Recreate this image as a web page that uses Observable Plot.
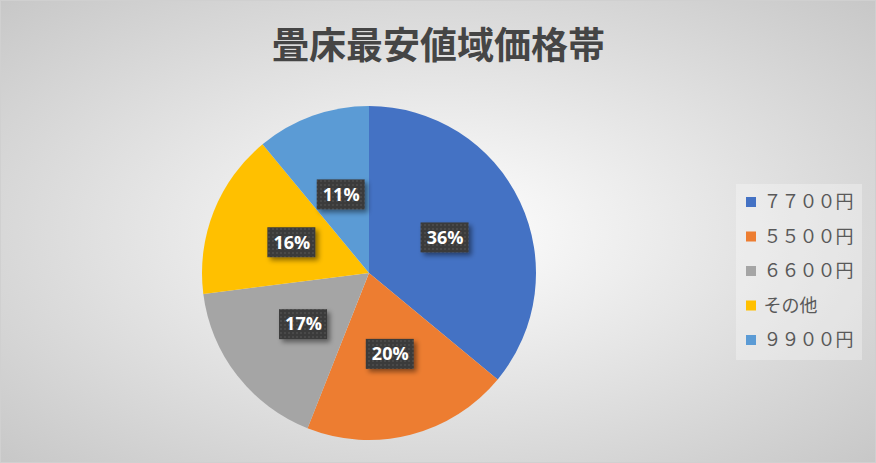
<!DOCTYPE html>
<html><head><meta charset="utf-8">
<script src="https://cdn.jsdelivr.net/npm/d3@7"></script>
<script src="https://cdn.jsdelivr.net/npm/@observablehq/plot@0.6"></script>
<style>
html,body{margin:0;padding:0;background:#fff;}
#chart svg{display:block;}
</style>
</head><body><div id="chart"></div>
<script>
const title = "畳床最安値域価格帯";
const categories = ["７７００円","５５００円","６６００円","その他","９９００円"];
const percents = [36, 20, 17, 16, 11];
const colors = ["#4472C4","#ED7D31","#A5A5A5","#FFC000","#5B9BD5"];

const W = 876, H = 463;
const cx = 369, cy = 273, R = 167;

const data = categories.map((c, i) => ({category: c, value: percents[i], color: colors[i]}));
const arcs = d3.pie().sort(null).value(d => d.value)(data);
const arcGen = d3.arc().innerRadius(0).outerRadius(R);
const labels = arcs.map(a => {
  const [dx, dy] = arcGen.centroid(a);
  return {x: cx + dx, y: cy + dy, text: a.data.value + "%"};
});
const legend = data.map((d, i) => ({...d, ly: 202 + i * 34.5}));

const bg = () => {
  const g = d3.create("svg:g");
  const defs = g.append("defs");
  const rg = defs.append("radialGradient").attr("id", "bgGrad")
    .attr("cx", "50%").attr("cy", "50%").attr("r", "75%");
  rg.append("stop").attr("offset", "0%").attr("stop-color", "#ffffff");
  rg.append("stop").attr("offset", "100%").attr("stop-color", "#c4c4c4");
  const f = defs.append("filter").attr("id", "shadow").attr("x", "-30%").attr("y", "-30%").attr("width", "170%").attr("height", "170%");
  f.append("feDropShadow").attr("dx", 3).attr("dy", 3).attr("stdDeviation", 2.5).attr("flood-color", "#000").attr("flood-opacity", 0.45);
  const p = defs.append("pattern").attr("id", "dots").attr("width", 4).attr("height", 4).attr("patternUnits", "userSpaceOnUse");
  p.append("rect").attr("width", 4).attr("height", 4).attr("fill", "#3a3a3a");
  p.append("rect").attr("width", 2).attr("height", 2).attr("fill", "#4a4a4a");
  g.append("rect").attr("x", 0.5).attr("y", 0.5).attr("width", W - 1).attr("height", H - 1)
    .attr("fill", "url(#bgGrad)").attr("stroke", "#d0d0d0");
  return g.node();
};

const pie = () => {
  const g = d3.create("svg:g").attr("transform", `translate(${cx},${cy})`);
  g.selectAll("path").data(arcs).join("path")
    .attr("d", arcGen).attr("fill", d => d.data.color);
  return g.node();
};

const chart = Plot.plot({
  width: W, height: H,
  margin: 0,
  x: {type: "identity", axis: null},
  y: {type: "identity", axis: null},
  style: {background: "transparent"},
  marks: [
    bg,
    pie,
    Plot.rect(labels, {x1: d => d.x - 24, x2: d => d.x + 24, y1: d => d.y - 15, y2: d => d.y + 15, fill: "url(#dots)", className: "lblbox"}),
    Plot.text(labels, {x: "x", y: "y", text: "text", fill: "white", fontSize: 18, fontWeight: "bold", fontFamily: "Open Sans, Liberation Sans, sans-serif"}),
    Plot.text([title], {x: 438, y: 47, text: d => d, fill: "#454545", fontSize: 37, fontFamily: "Noto Sans CJK JP", fontWeight: "bold"}),
    Plot.rect([0], {x1: 736, x2: 862, y1: 184, y2: 360, fill: "white", fillOpacity: 0.3}),
    Plot.rect(legend, {x1: 746, x2: 756, y1: d => d.ly - 5, y2: d => d.ly + 5, fill: "color"}),
    Plot.text(legend, {x: 763, y: "ly", text: "category", textAnchor: "start", fill: "#595959", fontSize: 18, fontFamily: "Noto Sans CJK JP"})
  ]
});
d3.select(chart).selectAll(".lblbox rect").attr("filter", "url(#shadow)");
document.getElementById("chart").appendChild(chart);
</script>
</body></html>
